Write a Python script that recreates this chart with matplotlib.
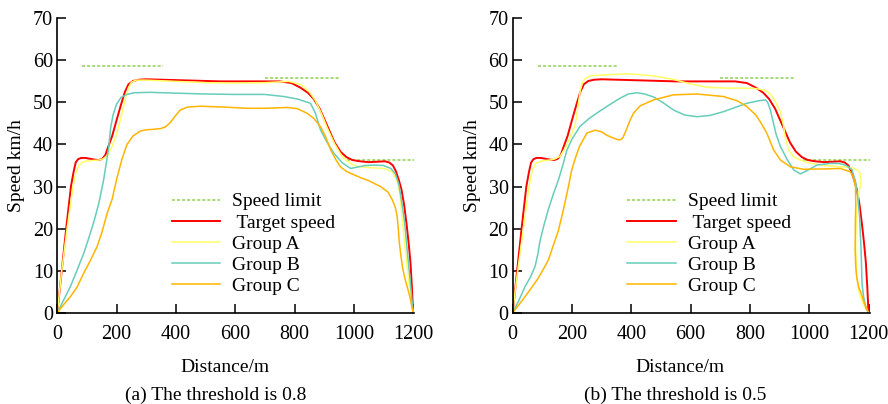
import numpy as np
import matplotlib.pyplot as plt

plt.rcParams['font.family'] = 'Liberation Serif'

# speed limit sections: start (m), end (m), limit (km/h)
limit_start = [84, 699, 978]
limit_end = [355, 951, 1205]
limit_speed = [58.6, 55.9, 36.4]

# target speed curve (same in both runs)
target_x = [0, 15, 30, 46, 55, 62, 70, 80, 95, 110, 125, 140, 152, 162, 172, 185, 200, 215, 228, 240,
            255, 275, 300, 350, 450, 550, 650, 750, 790, 820, 845, 865, 885, 910, 935, 955, 975, 995,
            1020, 1050, 1080, 1105, 1120, 1132, 1142, 1152, 1161, 1170, 1178, 1185, 1191, 1196, 1200]
target_v = [0, 10, 20, 30, 33.5, 35.7, 36.5, 36.8, 36.8, 36.6, 36.4, 36.3, 36.6, 37.5, 39.5, 42, 45.8,
            49.5, 52.5, 54.3, 55.1, 55.4, 55.5, 55.4, 55.2, 55.0, 55.0, 55.0, 54.6, 53.5, 52.3, 50.8,
            48.5, 44.5, 40.5, 38.3, 37.0, 36.3, 36.0, 35.8, 35.9, 36.0, 35.7, 35.0, 33.6, 31.5, 29.2,
            25.5, 21, 16.5, 12, 6, 0]

# threshold 0.8
a08_x = [0, 15, 33, 53, 62, 72, 85, 100, 120, 140, 155, 170, 185, 200, 215, 228, 240, 250, 265, 300,
         400, 500, 600, 700, 780, 820, 850, 870, 890, 910, 935, 960, 985, 1010, 1050, 1100, 1130,
         1145, 1155, 1165, 1175, 1186, 1195, 1200]
a08_v = [0, 10, 20, 30, 33, 35, 35.8, 36.1, 36.2, 36.3, 36.6, 37.5, 39.5, 42.5, 46.5, 50.5, 53.5,
         54.8, 55.3, 55.3, 55.0, 54.7, 54.6, 54.7, 55.0, 54.3, 52.5, 50.5, 47.5, 44.0, 40.2, 37.2,
         35.6, 34.8, 34.5, 34.3, 33.5, 31.5, 28.5, 21, 14, 7, 2.5, 0]

b08_x = [0, 20, 44, 65, 89, 105, 122, 140, 156, 165, 173, 180, 188, 200, 215, 235, 260, 314, 400,
         500, 595, 700, 764, 810, 854, 870, 888, 910, 933, 960, 989, 1010, 1040, 1068, 1100, 1125,
         1140, 1152, 1164, 1172, 1180, 1192, 1200]
b08_v = [0, 2.8, 6.2, 9.8, 14.1, 17.5, 21.3, 26, 31.5, 35.5, 39, 44, 47, 49.6, 51.2, 51.9, 52.3,
         52.4, 52.2, 52.0, 51.9, 51.9, 51.4, 50.8, 49.8, 47.5, 43.4, 40.5, 37.9, 35.7, 34.3, 34.6,
         35.0, 35.1, 35.0, 34.3, 33.0, 30.5, 25.2, 21, 14.9, 6.2, 0]

c08_x = [0, 20, 44, 66, 89, 110, 134, 150, 168, 185, 201, 218, 235, 255, 280, 300, 325, 350, 365,
         381, 398, 415, 440, 483, 560, 640, 700, 775, 810, 843, 865, 888, 905, 922, 940, 955, 975,
         1000, 1023, 1050, 1090, 1115, 1130, 1140, 1146, 1150, 1153, 1158, 1164, 1172, 1180, 1190,
         1200]
c08_v = [0, 1.8, 3.8, 6, 9.4, 12.2, 15.7, 19, 23.6, 27, 32, 36.5, 40, 42, 43.2, 43.5, 43.6, 43.8,
         44.2, 45.2, 46.8, 48.2, 48.9, 49.1, 48.9, 48.6, 48.6, 48.8, 48.5, 47.4, 46.2, 44.2, 41.8,
         38.7, 36.3, 34.7, 33.6, 32.8, 32.1, 31.4, 30, 28.7, 26.8, 25, 23, 20, 17, 14, 10.9, 8.2,
         6.2, 3.5, 0]

# threshold 0.5
a05_x = [0, 8, 17, 36, 55, 65, 77, 95, 110, 125, 140, 160, 180, 194, 203, 210, 216, 222, 228, 235,
         245, 261, 300, 385, 430, 475, 540, 600, 655, 720, 767, 820, 850, 869, 886, 903, 912, 919,
         930, 947, 970, 1000, 1050, 1105, 1140, 1155, 1167, 1172, 1175, 1172, 1167, 1162, 1159,
         1157, 1157, 1160, 1166, 1173, 1184, 1196, 1200]
a05_v = [0, 5, 10, 20, 30, 33.5, 35.5, 36.0, 36.2, 36.3, 36.5, 37.2, 39.5, 41.8, 43.3, 44.5, 47, 50,
         52.8, 54.7, 55.7, 56.3, 56.5, 56.8, 56.6, 56.3, 55.5, 54.4, 53.6, 53.4, 53.4, 53.3, 52.9,
         52.0, 50.2, 47.8, 45, 41.8, 38.7, 37.1, 36.3, 35.6, 35.0, 34.7, 34.5, 34.2, 33.6, 33.0,
         31.5, 30, 28.4, 25.5, 22.8, 18, 14.9, 8.6, 5.5, 3.8, 1.8, 0.4, 0]

b05_x = [0, 20, 41.5, 60, 75, 85, 92, 106, 120, 137, 154, 170, 182, 200, 227, 260, 295, 330, 362,
         390, 419, 445, 475, 510, 542, 580, 621, 665, 711, 750, 790, 830, 852, 860, 869, 878, 888,
         903, 925, 947, 970, 993, 1026, 1071, 1100, 1125, 1144, 1155, 1161, 1166, 1170, 1173, 1175,
         1178, 1184, 1192, 1200]
b05_v = [0, 2.8, 6.2, 8.5, 10.9, 14, 17, 21, 24.5, 28.2, 31.5, 35.3, 38.5, 41.3, 44.3, 46.3, 48,
         49.6, 51, 52, 52.3, 52.0, 51.3, 49.8, 48.2, 47.0, 46.6, 46.9, 47.8, 48.8, 49.8, 50.4, 50.6,
         50.0, 48.2, 45.5, 42.5, 39.5, 36.5, 34.0, 33.0, 33.8, 35.1, 35.5, 35.5, 35.0, 34.0, 31.5,
         29.2, 26, 22.8, 18, 14.9, 7, 3.5, 1, 0]

c05_x = [0, 20, 41.5, 60, 86, 103, 120, 137, 154, 171, 188, 199, 210, 225, 250, 278, 300, 317, 340,
         357, 366, 373, 385, 396, 407, 430, 475, 542, 621, 711, 760, 790, 820, 835, 857, 880, 903,
         936, 981, 1060, 1105, 1139, 1150, 1156, 1157, 1156, 1155, 1157, 1160, 1167, 1175, 1186,
         1200]
c05_v = [0, 1.8, 3.8, 5.6, 8.2, 10.3, 12.5, 16, 19.5, 24.5, 30, 33.9, 36.5, 39.5, 42.7, 43.4, 43,
         42.2, 41.5, 41.1, 41.2, 41.8, 43.8, 45.8, 47.4, 49.2, 50.6, 51.8, 52.0, 51.4, 50.3, 49.0,
         47.0, 45.4, 42.7, 38.7, 36.3, 34.7, 34.1, 34.2, 34.3, 33.5, 32, 30, 26, 22.8, 14.9, 11,
         8.6, 6, 4.6, 2.2, 0]

labels = ['Speed limit', ' Target speed', 'Group A', 'Group B', 'Group C']
colors = ['#8fd14f', '#ff0000', '#ffff66', '#66cdb9', '#ffb400']


def draw(ax, runs, caption, cap_x):
    # speed limit segments joined by gaps
    lx, lv = [], []
    for s, e, v in zip(limit_start, limit_end, limit_speed):
        lx += [s, e, np.nan]
        lv += [v, v, np.nan]
    ax.plot(lx, lv, color=colors[0], lw=1.1, dashes=(2, 1.3), label=labels[0])
    ax.plot(target_x, target_v, color=colors[1], lw=1.4, label=labels[1])
    for (x, v), lab, col in zip(runs, labels[2:], colors[2:]):
        ax.plot(x, v, color=col, lw=1.1, label=lab)

    ax.set_xlim(0, 1204)
    ax.set_ylim(0, 70)
    ax.set_xticks(range(0, 1201, 200))
    ax.set_yticks(range(0, 71, 10))
    for side in ['top', 'right']:
        ax.spines[side].set_visible(False)
    for side in ['left', 'bottom']:
        ax.spines[side].set_linewidth(1.2)
    ax.tick_params(direction='in', length=6.5, width=1.1, labelsize=14.5)
    ax.tick_params(axis='x', pad=9)
    ax.tick_params(axis='y', pad=3)

    ax.set_xlabel('Distance/m', fontsize=14)
    ax.xaxis.set_label_coords(0.469, -0.157)
    ax.set_ylabel('Speed km/h', fontsize=14)
    ax.yaxis.set_label_coords(-0.09, 0.5)

    ax.legend(loc='upper left', bbox_to_anchor=(0.3215, 0.407), frameon=False, fontsize=14,
              handlelength=2.47, handletextpad=0.62, labelspacing=0.18, borderpad=0,
              borderaxespad=0)
    fig.text(cap_x, 1 - 395 / 404, caption, ha='center', va='center', fontsize=14)


fig = plt.figure(figsize=(8.88, 4.04), dpi=100)
ax1 = fig.add_axes([57.3 / 888, 1 - 312.7 / 404, 357 / 888, 294.4 / 404])
ax2 = fig.add_axes([512.7 / 888, 1 - 312.7 / 404, 357 / 888, 294.4 / 404])

draw(ax1, [(a08_x, a08_v), (b08_x, b08_v), (c08_x, c08_v)], '(a) The threshold is 0.8', 216 / 888)
draw(ax2, [(a05_x, a05_v), (b05_x, b05_v), (c05_x, c05_v)], '(b) The threshold is 0.5', 675 / 888)

fig.savefig('out.png', dpi=100)
